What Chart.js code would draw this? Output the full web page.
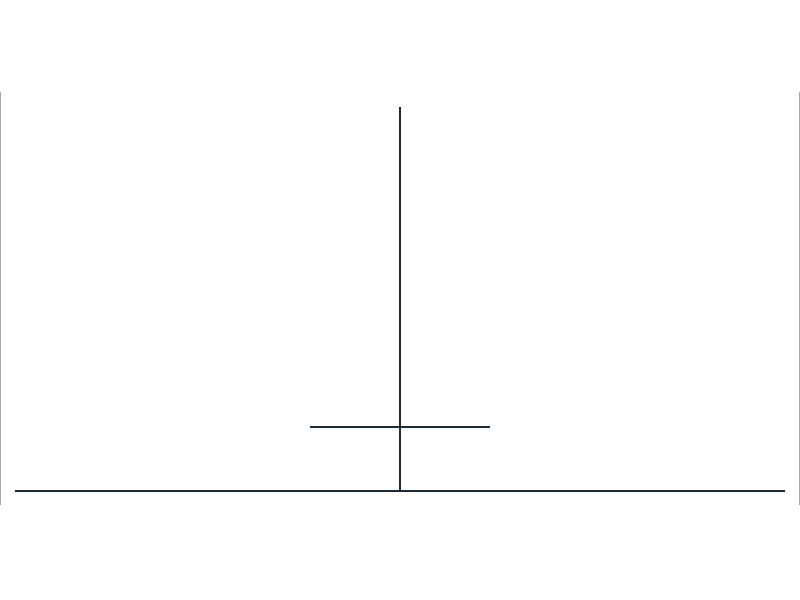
<!DOCTYPE html>
<html>
<head>
<meta charset="utf-8">
<script src="https://cdn.jsdelivr.net/npm/chart.js@4"></script>
<style>
  html, body { margin: 0; padding: 0; background: #ffffff; }
  #wrap { width: 800px; height: 600px; }
</style>
</head>
<body>
<div id="wrap"><canvas id="c" width="800" height="600"></canvas></div>
<script>
// Values
const stemX = [0, 0];
const stemY = [0, 6];
const crossX = [-0.1125, 0.1125];
const crossY = [1, 1];
const baseX = [-0.48125, 0.48125];
const baseY = [0, 0];
const frameLeftX = [-0.5, -0.5];
const frameRightX = [0.5, 0.5];
const frameY = [-0.21875, 6.234375];
const xRange = [-0.5, 0.5];
const yRange = [-0.21875, 6.234375];

const pts = (xs, ys) => xs.map((x, i) => ({ x: x, y: ys[i] }));

const dark = '#1d2b36';
const grey = '#a8a8a8';

new Chart(document.getElementById('c'), {
  type: 'scatter',
  data: {
    datasets: [
      { data: pts(frameLeftX, frameY), showLine: true, borderColor: grey, borderWidth: 2, pointRadius: 0 },
      { data: pts(frameRightX, frameY), showLine: true, borderColor: grey, borderWidth: 2, pointRadius: 0 },
      { data: pts(baseX, baseY), showLine: true, borderColor: dark, borderWidth: 2, pointRadius: 0 },
      { data: pts(crossX, crossY), showLine: true, borderColor: dark, borderWidth: 2, pointRadius: 0 },
      { data: pts(stemX, stemY), showLine: true, borderColor: dark, borderWidth: 2, pointRadius: 0 }
    ]
  },
  options: {
    responsive: false,
    animation: false,
    devicePixelRatio: 1,
    layout: { padding: { top: 92, bottom: 95, left: 0, right: 0 } },
    plugins: { legend: { display: false }, tooltip: { enabled: false } },
    scales: {
      x: { type: 'linear', display: false, min: xRange[0], max: xRange[1] },
      y: { type: 'linear', display: false, min: yRange[0], max: yRange[1] }
    }
  }
});
</script>
</body>
</html>
